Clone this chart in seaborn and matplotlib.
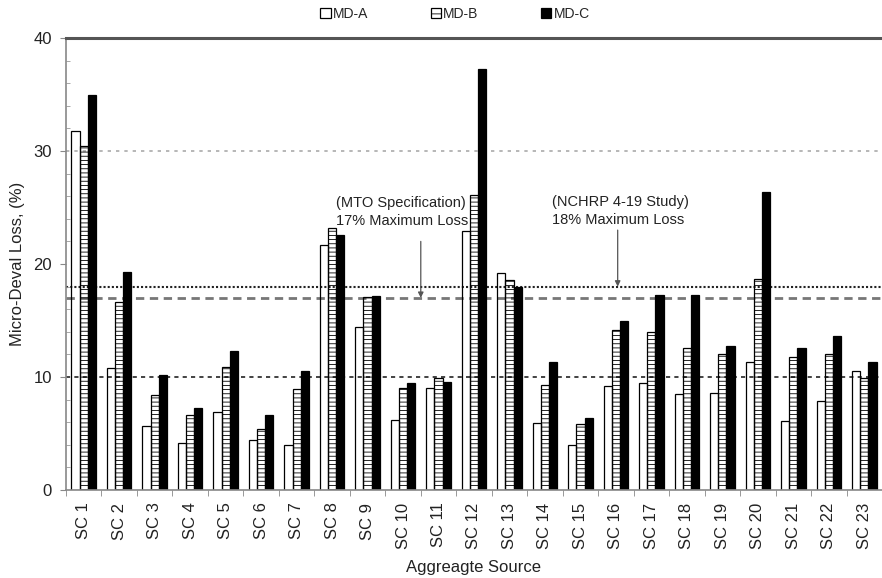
import matplotlib
matplotlib.use("Agg")
import matplotlib.pyplot as plt
from matplotlib.patches import Patch
import numpy as np
import pandas as pd
import seaborn as sns

# Aggregate sources and Micro-Deval loss (%) for the three test methods
sources = ["SC 1", "SC 2", "SC 3", "SC 4", "SC 5", "SC 6", "SC 7", "SC 8",
           "SC 9", "SC 10", "SC 11", "SC 12", "SC 13", "SC 14", "SC 15",
           "SC 16", "SC 17", "SC 18", "SC 19", "SC 20", "SC 21", "SC 22",
           "SC 23"]
methods = ["MD-A", "MD-B", "MD-C"]
md_a = [31.8, 10.8, 5.7, 4.2, 6.9, 4.4, 4.0, 21.7, 14.4, 6.2, 9.0, 22.9,
        19.2, 5.9, 4.0, 9.2, 9.5, 8.5, 8.6, 11.3, 6.1, 7.9, 10.5]
md_b = [30.4, 16.6, 8.4, 6.6, 10.9, 5.4, 8.9, 23.2, 17.1, 9.0, 9.9, 26.1,
        18.6, 9.3, 5.8, 14.2, 14.0, 12.6, 12.0, 18.7, 11.8, 12.0, 9.9]
md_c = [35.0, 19.3, 10.2, 7.3, 12.3, 6.6, 10.5, 22.6, 17.2, 9.5, 9.6, 37.3,
        18.0, 11.3, 6.4, 15.0, 17.3, 17.3, 12.7, 26.4, 12.6, 13.6, 11.3]

# Specification limits
mto_limit = 17
nchrp_limit = 18

df = pd.DataFrame({
    "source": sources * 3,
    "method": [m for m in methods for _ in sources],
    "loss": md_a + md_b + md_c,
})

sns.set_style("ticks")
plt.rcParams["font.family"] = ["Liberation Sans", "DejaVu Sans"]
plt.rcParams["hatch.linewidth"] = 0.6

fig = plt.figure(figsize=(8.82, 5.78), dpi=100)
ax = fig.add_axes([66 / 882, 88 / 578, 816 / 882, 452 / 578])

sns.barplot(data=df, x="source", y="loss", hue="method", hue_order=methods,
            order=sources, palette=["white", "white", "black"], saturation=1,
            width=0.69, edgecolor="black", linewidth=0.9, legend=False,
            errorbar=None, ax=ax)

styles = [dict(facecolor="none", hatch=None),
          dict(facecolor="none", hatch="----"),
          dict(facecolor="black", hatch=None)]
for cont, st in zip(ax.containers, styles):
    for bar in cont:
        bar.set_facecolor(st["facecolor"])
        bar.set_edgecolor("black")
        if st["hatch"]:
            bar.set_hatch(st["hatch"])

# Horizontal reference lines
ax.axhline(30, color="#aaaaaa", lw=1.2, linestyle=(0, (2, 3)), zorder=0.5)
ax.axhline(nchrp_limit, color="#222222", lw=1.5, linestyle=(0, (1, 1)), zorder=0.5)
ax.axhline(mto_limit, color="#777777", lw=2.0, linestyle=(0, (3, 2)), zorder=0.5)
ax.axhline(10, color="#222222", lw=1.2, linestyle=(0, (2.5, 2.5)), zorder=0.5)

# Limit annotations
ax.text(7.1, 24.6, "(MTO Specification)\n17% Maximum Loss", fontsize=10.5,
        color="#222222", ha="left", va="center", linespacing=1.3)
ax.annotate("", xy=(9.5, mto_limit), xytext=(9.5, 22.0),
            arrowprops=dict(arrowstyle="-|>", color="#555555", lw=0.9,
                            mutation_scale=8, shrinkA=0, shrinkB=0))
ax.text(13.2, 24.7, "(NCHRP 4-19 Study)\n18% Maximum Loss", fontsize=10.5,
        color="#222222", ha="left", va="center", linespacing=1.3)
ax.annotate("", xy=(15.05, nchrp_limit), xytext=(15.05, 23.0),
            arrowprops=dict(arrowstyle="-|>", color="#555555", lw=0.9,
                            mutation_scale=8, shrinkA=0, shrinkB=0))

# Axes, ticks and spines
ax.set_xlim(-0.5, len(sources) - 0.5)
ax.set_ylim(0, 40)
ax.set_xticks(range(len(sources)))
ax.set_xticklabels(sources, rotation=90)
ax.set_xticks(np.arange(-0.5, len(sources), 1), minor=True)
ax.set_yticks([0, 10, 20, 30, 40])
ax.set_yticks(np.arange(0, 41, 2), minor=True)
ax.tick_params(axis="x", which="major", length=0, pad=9, labelsize=12,
               labelcolor="#222222")
ax.tick_params(axis="x", which="minor", length=4, direction="out",
               color="#888888")
ax.tick_params(axis="y", which="major", length=4, direction="out",
               color="#888888", labelsize=12, pad=6, labelcolor="#222222")
ax.tick_params(axis="y", which="minor", length=3, direction="in",
               color="#999999")

for side in ("left", "bottom"):
    ax.spines[side].set_color("#888888")
    ax.spines[side].set_linewidth(1.2)
ax.spines["right"].set_visible(False)
ax.spines["top"].set_visible(True)
ax.spines["top"].set_color("#555555")
ax.spines["top"].set_linewidth(2.2)

ax.set_xlabel("Aggreagte Source", fontsize=12, color="#222222", labelpad=8)
ax.set_ylabel("Micro-Deval Loss, (%)", fontsize=12, color="#222222", labelpad=6)

handles = [
    Patch(facecolor="white", edgecolor="black", linewidth=0.9, label="MD-A"),
    Patch(facecolor="white", edgecolor="black", linewidth=0.9, hatch="---",
          label="MD-B"),
    Patch(facecolor="black", edgecolor="black", linewidth=0.9, label="MD-C"),
]
fig.legend(handles=handles, loc="center", bbox_to_anchor=(455 / 882, 0.976),
           ncol=3, frameon=False, fontsize=10, handlelength=0.75,
           handleheight=0.75, handletextpad=0.15, columnspacing=4.5)

fig.savefig("out.png", dpi=100)
